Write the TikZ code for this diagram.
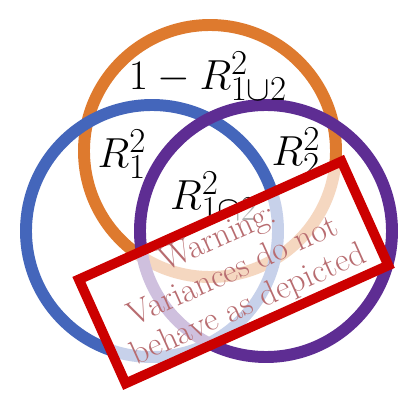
\documentclass[tikz,border=0pt]{standalone}
\usepackage{tikz}

\definecolor{vorange}{RGB}{222,122,46}
\definecolor{vblue}{RGB}{68,102,187}
\definecolor{vpurple}{RGB}{94,45,147}
\definecolor{wred}{RGB}{204,0,0}
\definecolor{wtext}{RGB}{184,108,112}

\begin{document}
\begin{tikzpicture}[
  ring/.style={line width=8.5pt},
  area/.style={font=\Huge,scale=1.2},
  warning/.style={draw=wred,line width=7pt,fill=white,fill opacity=0.7,text opacity=1,
    text=wtext,align=center,inner sep=0pt,minimum width=7.2cm,minimum height=2.85cm,
    font=\fontsize{24}{26}\selectfont}
]
  \useasboundingbox (0,0) rectangle (10.35,10.35);
  \coordinate (total) at (5.25,6.575);
  \coordinate (first) at (3.8,4.575);
  \coordinate (second) at (6.65,4.575);

  \draw[ring,vorange] (total) circle (3.15);
  \draw[ring,vblue] (first) circle (3.15);
  \draw[ring,vpurple] (second) circle (3.15);

  \node[area] (unexplained) at (5.2,8.45) {$1-R^2_{1\cup 2}$};
  \node[area] (onlyfirst) at (3.05,6.5) {$R^2_1$};
  \node[area] (onlysecond) at (7.4,6.55) {$R^2_2$};
  \node[area] (shared) at (5.35,5.45) {$R^2_{1\cap 2}$};

  \node[warning,rotate=24.2] (caveat) at (5.84,3.54)
    {Warning:\\Variances do not\\behave as depicted};
\end{tikzpicture}
\end{document}
